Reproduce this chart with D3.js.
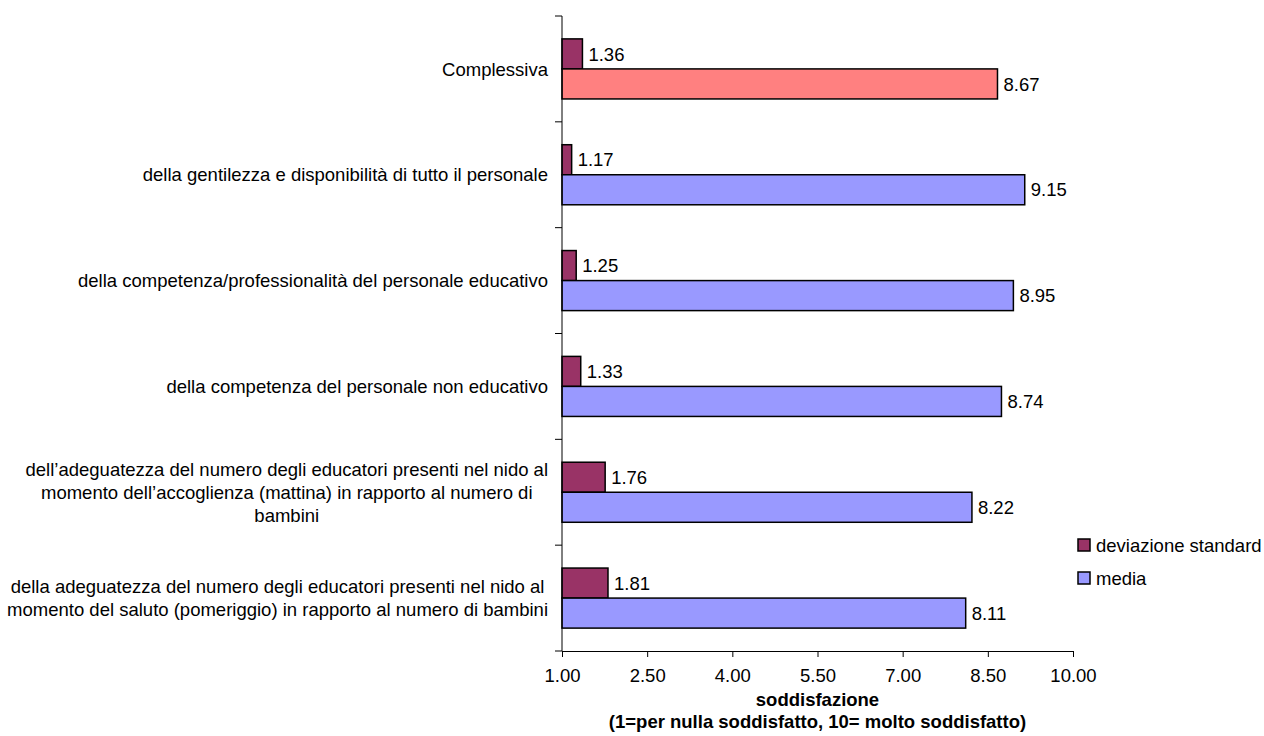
<!DOCTYPE html>
<html>
<head>
<meta charset="utf-8">
<script src="https://cdn.jsdelivr.net/npm/d3@7"></script>
<style>
  html, body { margin: 0; padding: 0; background: #fff; }
  svg { display: block; font-family: Arial, "Liberation Sans", sans-serif; }
</style>
</head>
<body>
<svg id="chart" width="1264" height="736"></svg>
<script>
const categories = [
  "Complessiva",
  "della gentilezza e disponibilità di tutto il personale",
  "della competenza/professionalità del personale educativo",
  "della competenza del personale non educativo",
  "dell’adeguatezza del numero degli educatori presenti nel nido al\nmomento dell’accoglienza (mattina) in rapporto al numero di\nbambini",
  "della adeguatezza del numero degli educatori presenti nel nido al\nmomento del saluto (pomeriggio) in rapporto al numero di bambini"
];
const seriesNames = ["deviazione standard", "media"];
const deviazione = [1.36, 1.17, 1.25, 1.33, 1.76, 1.81];
const media = [8.67, 9.15, 8.95, 8.74, 8.22, 8.11];
const tickValues = [1.00, 2.50, 4.00, 5.50, 7.00, 8.50, 10.00];
const axisTitle = ["soddisfazione", "(1=per nulla soddisfatto, 10= molto soddisfatto)"];

const colors = { dev: "#993366", media: "#9999FF", highlight: "#FF8080" };

const svg = d3.select("#chart");
const FS = 18.5;
const plot = { left: 562, right: 1073, top: 16, bottom: 651 };

const x = d3.scaleLinear().domain([1, 10]).range([plot.left, plot.right]);
const y = d3.scaleBand().domain(categories).range([plot.top, plot.bottom]).padding(0);
const bw = y.bandwidth();
const inner = d3.scaleBand().domain(seriesNames)
  .range([bw * 0.2163, bw * 0.7837]).padding(0);

const rows = categories.map((c, i) => ({ cat: c, i, dev: deviazione[i], media: media[i] }));

// bars
const g = svg.append("g");
rows.forEach(r => {
  const items = [
    { s: seriesNames[0], v: r.dev, fill: colors.dev },
    { s: seriesNames[1], v: r.media, fill: r.i === 0 ? colors.highlight : colors.media }
  ];
  items.forEach(it => {
    const y0 = y(r.cat) + inner(it.s);
    g.append("rect")
      .attr("x", x(1))
      .attr("y", y0)
      .attr("width", x(it.v) - x(1))
      .attr("height", inner.bandwidth())
      .attr("fill", it.fill)
      .attr("stroke", "#000")
      .attr("stroke-width", 1.5);
    g.append("text")
      .attr("x", x(it.v) + 6)
      .attr("y", y0 + inner.bandwidth() / 2)
      .attr("dy", "0.36em")
      .attr("font-size", FS)
      .attr("fill", "#000")
      .text(it.v.toFixed(2));
  });
});

// y axis
const yAxis = svg.append("g").attr("transform", `translate(${plot.left},0)`);
yAxis.append("line").attr("x1", 0).attr("x2", 0).attr("y1", plot.top).attr("y2", plot.bottom)
  .attr("stroke", "#000").attr("stroke-width", 1);
const bounds = categories.map(c => y(c)).concat([plot.bottom]);
bounds.forEach(b => {
  yAxis.append("line").attr("x1", -7).attr("x2", 0).attr("y1", b).attr("y2", b)
    .attr("stroke", "#000").attr("stroke-width", 1);
});

// category labels
const labelRight = 548;
const lineH = 23;
categories.forEach(c => {
  const lines = c.split("\n");
  const cy = y(c) + bw / 2;
  const t = svg.append("text").attr("font-size", FS).attr("fill", "#000");
  const spans = lines.map((ln, k) => t.append("tspan")
    .attr("y", cy + (k - (lines.length - 1) / 2) * lineH)
    .attr("dy", "0.36em")
    .text(ln));
  let maxW = 0;
  spans.forEach(s => { maxW = Math.max(maxW, s.node().getComputedTextLength()); });
  const cx = labelRight - maxW / 2;
  t.attr("text-anchor", "middle");
  spans.forEach(s => s.attr("x", cx));
});

// x axis
const xAxis = svg.append("g").attr("transform", `translate(0,${plot.bottom})`)
  .call(d3.axisBottom(x).tickValues(tickValues).tickSize(6).tickSizeOuter(0).tickPadding(12)
    .tickFormat(d3.format(".2f")));
xAxis.select(".domain").attr("stroke", "#000");
xAxis.selectAll(".tick line").attr("stroke", "#000");
xAxis.selectAll(".tick text").attr("font-size", FS).attr("fill", "#000")
  .attr("font-family", "Arial, 'Liberation Sans', sans-serif");

// axis title
const midX = (plot.left + plot.right) / 2;
axisTitle.forEach((t, k) => {
  svg.append("text")
    .attr("x", midX).attr("y", 706 + k * 22)
    .attr("text-anchor", "middle")
    .attr("font-size", FS).attr("font-weight", "bold").attr("fill", "#000")
    .text(t);
});

// legend
const legend = svg.append("g").attr("transform", "translate(1078,539)");
seriesNames.forEach((s, k) => {
  const gy = k * 33;
  legend.append("rect").attr("x", 0).attr("y", gy).attr("width", 12).attr("height", 12)
    .attr("fill", k === 0 ? colors.dev : colors.media)
    .attr("stroke", "#000").attr("stroke-width", 1.5);
  legend.append("text").attr("x", 18).attr("y", gy + 6).attr("dy", "0.36em")
    .attr("font-size", FS).attr("fill", "#000").text(s);
});
</script>
</body>
</html>
